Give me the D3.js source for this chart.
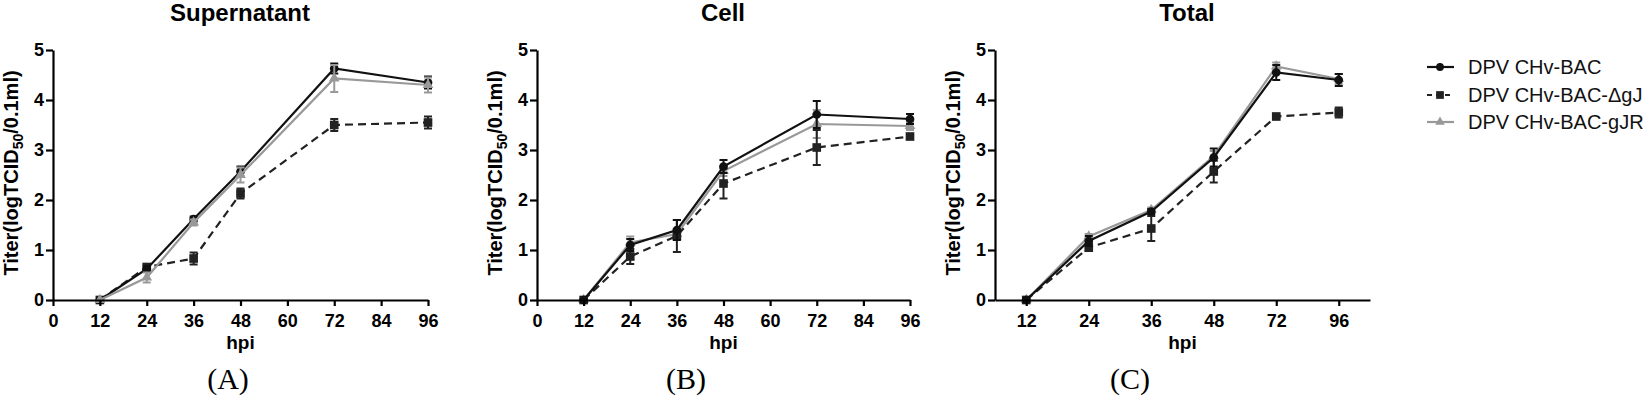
<!DOCTYPE html>
<html>
<head>
<meta charset="utf-8">
<script src="https://cdn.jsdelivr.net/npm/d3@7"></script>
<style>
  body { margin: 0; background: #fff; }
  svg { font-family: "Liberation Sans", Arial, sans-serif; }
</style>
</head>
<body>
<svg id="svg" width="1650" height="410"></svg>
<script>
// sampling times (hpi)
const hours = [12, 24, 36, 48, 72, 96];
const seriesNames = ["DPV CHv-BAC", "DPV CHv-BAC-\u0394gJ", "DPV CHv-BAC-gJR"];
const panelTitles = ["Supernatant", "Cell", "Total"];
const panelLetters = ["(A)", "(B)", "(C)"];
const xTicksLinear = [0, 12, 24, 36, 48, 60, 72, 84, 96];
const yTicks = [0, 1, 2, 3, 4, 5];

// Supernatant
const supBAC = [0, 0.62, 1.62, 2.57, 4.63, 4.35];
const supBACErr = [0, 0.05, 0.05, 0.1, 0.1, 0.12];
const supDgJ = [0, 0.66, 0.83, 2.13, 3.5, 3.55];
const supDgJErr = [0, 0.05, 0.12, 0.1, 0.12, 0.12];
const supGJR = [0, 0.45, 1.55, 2.5, 4.43, 4.3];
const supGJRErr = [0, 0.1, 0.06, 0.15, 0.27, 0.15];

// Cell
const cellBAC = [0, 1.1, 1.4, 2.67, 3.71, 3.62];
const cellBACErr = [0, 0.12, 0.2, 0.13, 0.27, 0.1];
const cellDgJ = [0, 0.87, 1.28, 2.33, 3.05, 3.27];
const cellDgJErr = [0, 0.15, 0.32, 0.3, 0.35, 0.05];
const cellGJR = [0, 1.15, 1.32, 2.58, 3.52, 3.48];
const cellGJRErr = [0, 0.12, 0.1, 0.1, 0.28, 0.08];

// Total
const totBAC = [0, 1.18, 1.77, 2.85, 4.55, 4.4];
const totBACErr = [0, 0.1, 0.05, 0.18, 0.15, 0.12];
const totDgJ = [0, 1.05, 1.43, 2.57, 3.67, 3.75];
const totDgJErr = [0, 0.07, 0.25, 0.22, 0.03, 0.1];
const totGJR = [0, 1.27, 1.8, 2.88, 4.67, 4.42];
const totGJRErr = [0, 0.05, 0.05, 0.1, 0.08, 0.1];

const styles = [
  { color: "#111", dash: null, symbol: d3.symbolCircle, size: 60 },
  { color: "#222", dash: "8,5", symbol: d3.symbolSquare, size: 75 },
  { color: "#999", dash: null, symbol: d3.symbolTriangle, size: 50 }
];

const panels = [
  { x0: 53, x1: 428, categorical: false, titleX: 240, letterX: 228,
    data: [[supBAC, supBACErr], [supDgJ, supDgJErr], [supGJR, supGJRErr]],
    order: [1, 0, 2] },
  { x0: 537, x1: 910, categorical: false, titleX: 723, letterX: 686,
    data: [[cellBAC, cellBACErr], [cellDgJ, cellDgJErr], [cellGJR, cellGJRErr]],
    order: [2, 1, 0] },
  { x0: 995, x1: 1370, categorical: true, titleX: 1187, letterX: 1130,
    data: [[totBAC, totBACErr], [totDgJ, totDgJErr], [totGJR, totGJRErr]],
    order: [2, 1, 0] }
];

const svg = d3.select("svg");
const yTop = 50, yBottom = 300;

panels.forEach((p, pi) => {
  let g = svg.append("g");
  let x;
  if (p.categorical) {
    x = d3.scalePoint().domain(hours).range([p.x0, p.x1]).padding(0.5);
  } else {
    x = d3.scaleLinear().domain([0, 96]).range([p.x0, p.x1]);
  }
  let y = d3.scaleLinear().domain([0, 5]).range([yBottom, yTop]);

  // lines and error bars
  p.order.forEach(si => {
    let st = styles[si];
    let vals = p.data[si][0], errs = p.data[si][1];
    let pts = hours.map((h, i) => ({ h, v: vals[i], e: errs[i] }));
    let line = d3.line().x(d => x(d.h)).y(d => y(d.v));
    g.append("path")
     .datum(pts)
     .attr("fill", "none")
     .attr("stroke", st.color)
     .attr("stroke-width", 2.2)
     .attr("stroke-dasharray", st.dash)
     .attr("d", line);

    let eb = g.append("g").attr("stroke", st.color).attr("stroke-width", 2);
    pts.filter(d => d.e > 0).forEach(d => {
      let cx = x(d.h);
      eb.append("line").attr("x1", cx).attr("x2", cx).attr("y1", y(d.v - d.e)).attr("y2", y(d.v + d.e));
      eb.append("line").attr("x1", cx - 4).attr("x2", cx + 4).attr("y1", y(d.v - d.e)).attr("y2", y(d.v - d.e));
      eb.append("line").attr("x1", cx - 4).attr("x2", cx + 4).attr("y1", y(d.v + d.e)).attr("y2", y(d.v + d.e));
    });

    g.selectAll(null)
     .data(pts)
     .enter().append("path")
       .attr("d", d3.symbol().type(st.symbol).size(st.size))
       .attr("fill", st.color)
       .attr("transform", d => "translate(" + x(d.h) + "," + y(d.v) + ")");
  });

  // axes
  let xAxis = p.categorical ? d3.axisBottom(x) : d3.axisBottom(x).tickValues(xTicksLinear);
  let gx = g.append("g")
    .attr("transform", "translate(0," + yBottom + ")")
    .call(xAxis.tickSize(6).tickSizeOuter(0).tickPadding(8));
  let gy = g.append("g")
    .attr("transform", "translate(" + p.x0 + ",0)")
    .call(d3.axisLeft(y).tickValues(yTicks).tickFormat(d3.format("d"))
      .tickSize(7).tickSizeOuter(0).tickPadding(2));
  [gx, gy].forEach(a => {
    a.selectAll("path, line").attr("stroke", "#000").attr("stroke-width", 2.2);
    a.selectAll("text").attr("fill", "#000").style("font-size", "18px").style("font-weight", "bold");
  });

  // title
  g.append("text")
   .attr("x", p.titleX).attr("y", 21)
   .attr("text-anchor", "middle")
   .style("font-size", "24px").style("font-weight", "bold")
   .text(panelTitles[pi]);

  // x label
  let midX = (p.x0 + p.x1) / 2;
  g.append("text")
   .attr("x", midX).attr("y", 349)
   .attr("text-anchor", "middle")
   .style("font-size", "19px").style("font-weight", "bold")
   .text("hpi");

  // y label
  let yl = g.append("text")
   .attr("transform", "translate(" + (p.x0 - 35) + "," + ((yTop + yBottom) / 2 - 2) + ") rotate(-90)")
   .attr("text-anchor", "middle")
   .style("font-size", "20px").style("font-weight", "bold");
  yl.append("tspan").text("Titer(logTCID");
  yl.append("tspan").attr("dy", 5).style("font-size", "14px").text("50");
  yl.append("tspan").attr("dy", -5).text("/0.1ml)");

  // panel letter
  g.append("text")
   .attr("x", p.letterX).attr("y", 389)
   .attr("text-anchor", "middle")
   .style("font-family", "'Liberation Serif', 'Times New Roman', serif")
   .style("font-size", "30px")
   .text(panelLetters[pi]);
});

// legend
const legendY = [67, 95, 122];
let lg = svg.append("g");
seriesNames.forEach((name, i) => {
  let st = styles[i];
  let yy = legendY[i];
  lg.append("line")
    .attr("x1", 1427).attr("x2", 1454).attr("y1", yy).attr("y2", yy)
    .attr("stroke", st.color).attr("stroke-width", 2.2)
    .attr("stroke-dasharray", st.dash ? "5,4" : null);
  lg.append("path")
    .attr("d", d3.symbol().type(st.symbol).size(st.size * 0.8))
    .attr("fill", st.color)
    .attr("transform", "translate(1440," + yy + ")");
  lg.append("text")
    .attr("x", 1468).attr("y", yy)
    .attr("dy", "0.35em")
    .style("font-size", "20px")
    .attr("fill", "#111")
    .text(name);
});
</script>
</body>
</html>
